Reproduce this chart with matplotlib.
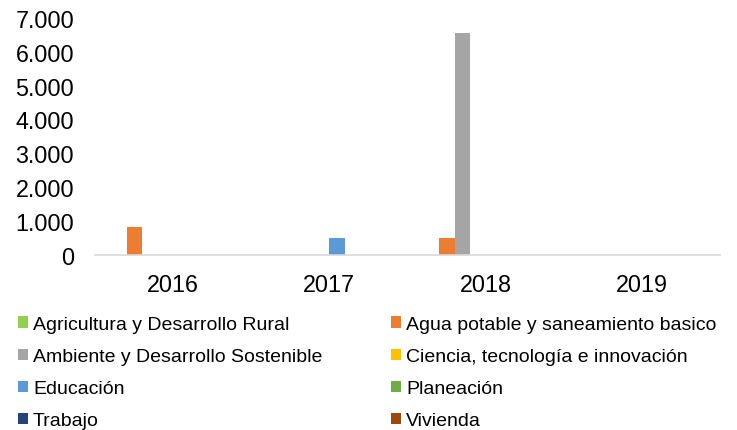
import matplotlib
matplotlib.use("Agg")
import matplotlib.pyplot as plt
import numpy as np
from matplotlib.ticker import FuncFormatter, MultipleLocator

plt.rcParams['font.family'] = ['Liberation Sans', 'DejaVu Sans']

years = ["2016", "2017", "2018", "2019"]
series = ["Agricultura y Desarrollo Rural", "Agua potable y saneamiento basico",
          "Ambiente y Desarrollo Sostenible", "Ciencia, tecnología e innovación",
          "Educación", "Planeación", "Trabajo", "Vivienda"]
colors = ["#92D050", "#ED7D31", "#A5A5A5", "#FFC000", "#5B9BD5", "#70AD47", "#264478", "#9E480E"]
agricultura = [0, 0, 0, 0]
agua = [810, 0, 480, 0]
ambiente = [0, 0, 6570, 0]
ciencia = [0, 0, 0, 0]
educacion = [0, 480, 0, 0]
planeacion = [0, 0, 0, 0]
trabajo = [0, 0, 0, 0]
vivienda = [0, 0, 0, 0]
values = [agricultura, agua, ambiente, ciencia, educacion, planeacion, trabajo, vivienda]

fig = plt.figure(figsize=(7.37, 4.31), dpi=100)
ax = fig.add_axes([95/737, 1-255.7/431, 625/737, 236.7/431])

n = len(series)
x = np.arange(len(years))
w = 1.0 / (n + 2.1)
handles = []
for i, (name, vals, c) in enumerate(zip(series, values, colors)):
    h = ax.bar(x + (i - (n - 1) / 2) * w, vals, width=w, color=c, label=name)
    handles.append(h)

ax.set_xlim(-0.5, len(years) - 0.5)
ax.set_ylim(0, 7000)
ax.yaxis.set_major_locator(MultipleLocator(1000))
ax.yaxis.set_major_formatter(FuncFormatter(lambda v, p: f"{int(v):,}".replace(",", ".")))
ax.set_xticks(x)
ax.set_xticklabels(years)
for s in ["top", "right", "left"]:
    ax.spines[s].set_visible(False)
ax.spines["bottom"].set_color("#D9D9D9")
ax.spines["bottom"].set_linewidth(1.2)
ax.tick_params(axis="both", length=0, labelsize=16.8, colors="#000000")
ax.tick_params(axis="x", pad=13.5)
ax.tick_params(axis="y", pad=15)

order = [0, 2, 4, 6, 1, 3, 5, 7]
leg = fig.legend([handles[k] for k in order], [series[k] for k in order],
                 loc="upper left", bbox_to_anchor=(18/737, 1-317/431), ncol=2, frameon=False,
                 fontsize=14, handlelength=0.51, handleheight=0.51, handletextpad=0.26,
                 columnspacing=3.55, labelspacing=0.78, borderaxespad=0, borderpad=0)
fig.savefig("out.png", dpi=100)
